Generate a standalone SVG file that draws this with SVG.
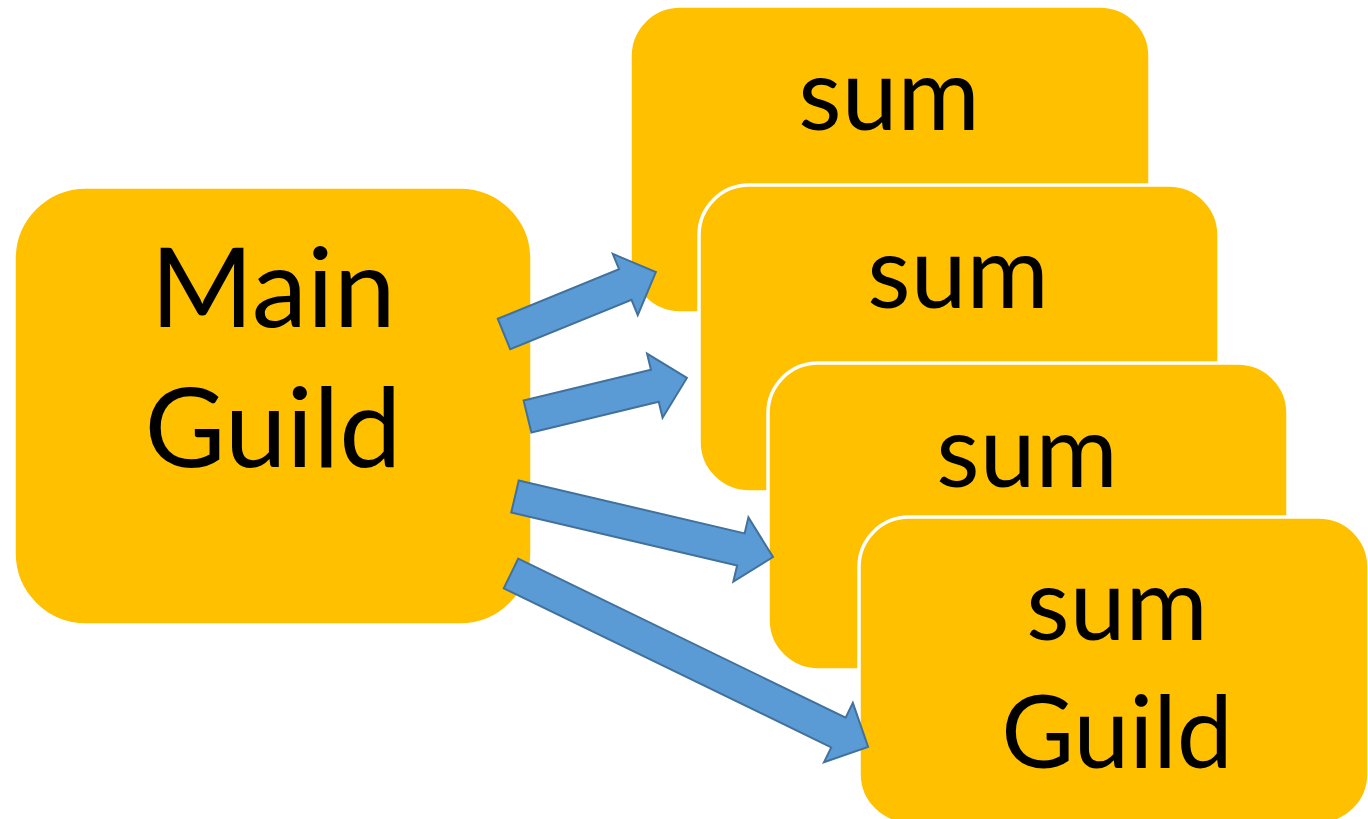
<svg xmlns="http://www.w3.org/2000/svg" width="1368" height="819" viewBox="0 0 1368 819">
<defs>
<style>
.box{fill:#FFC000;stroke:#FFFFFF;stroke-width:3.5}
.lbl{font-family:Lato,"Open Sans",sans-serif;font-size:100px;fill:#000000;text-anchor:middle}
.big{font-size:111px}
.arr{fill:#5B9BD5;stroke:#41719C;stroke-width:2;stroke-linejoin:miter}
</style>
</defs>
<rect width="1368" height="819" fill="#FFFFFF"/>
<g id="main-guild">
<rect class="box" x="14" y="187" width="518" height="438" rx="72" ry="72"/>
<text class="lbl big" x="273" y="327">Main</text>
<text class="lbl big" x="273" y="467">Guild</text>
</g>
<g id="sub1">
<rect class="box" x="630" y="6" width="520" height="307" rx="50" ry="50"/>
<text class="lbl" x="889" y="130">sum</text>
</g>
<g id="sub2">
<rect class="box" x="699" y="185" width="520" height="307" rx="50" ry="50"/>
<text class="lbl" x="958" y="308">sum</text>
</g>
<g id="sub3">
<rect class="box" x="768" y="363" width="520" height="307" rx="50" ry="50"/>
<text class="lbl" x="1027" y="487">sum</text>
</g>
<g id="sub4">
<rect class="box" x="859" y="517" width="510" height="307" rx="50" ry="50"/>
<text class="lbl" x="1117" y="640">sum</text>
<text class="lbl" x="1117" y="768">Guild</text>
</g>
<g id="connectors">
<polygon class="arr" transform="translate(504,334) rotate(-22.2)" points="0,-16.5 131,-16.5 131,-33 164,0 131,33 131,16.5 0,16.5"/>
<polygon class="arr" transform="translate(527.5,416.5) rotate(-13.6)" points="0,-16.5 131,-16.5 131,-33 164,0 131,33 131,16.5 0,16.5"/>
<polygon class="arr" transform="translate(515,496.5) rotate(13.2)" points="0,-16.5 232,-16.5 232,-33 265,0 232,33 232,16.5 0,16.5"/>
<polygon class="arr" transform="translate(511,573.5) rotate(25.9)" points="0,-16.5 364,-16.5 364,-33 397,0 364,33 364,16.5 0,16.5"/>
</g>
</svg>
